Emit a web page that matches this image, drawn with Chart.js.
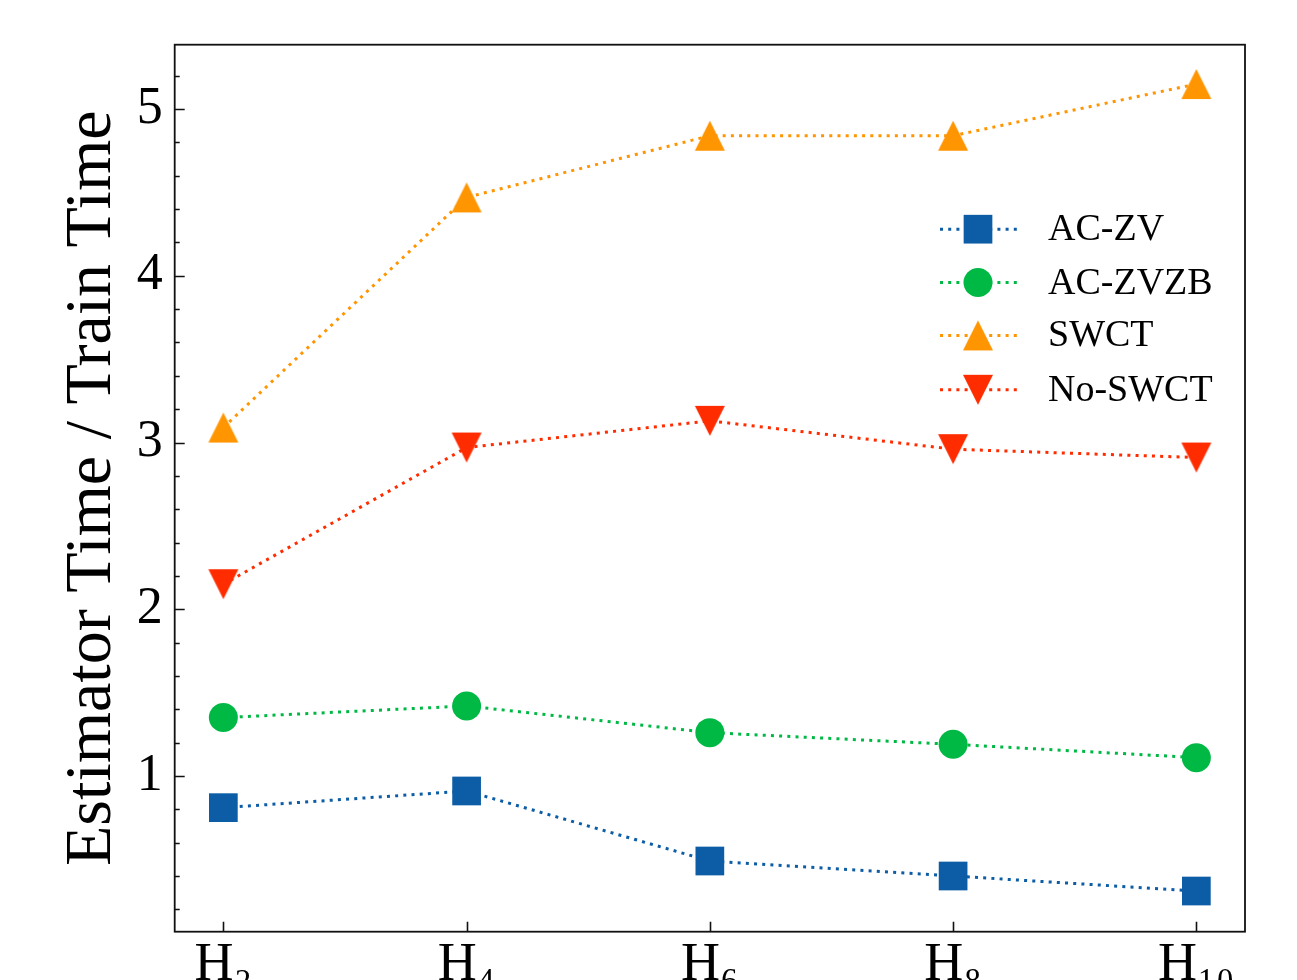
<!DOCTYPE html>
<html>
<head>
<meta charset="utf-8">
<title>Estimator Time / Train Time</title>
<script src="https://cdn.jsdelivr.net/npm/chart.js@4.4.0/dist/chart.umd.min.js"></script>
<style>
    html, body { margin: 0; padding: 0; overflow: hidden; background: #fff; }
    #wrap { width: 1297px; height: 1040px; }
</style>
</head>
<body>
<div id="wrap"><canvas id="chart" width="1297" height="1040"></canvas></div>
<script>
// Data
const xLabels = ['H₂', 'H₄', 'H₆', 'H₈', 'H₁₀'];
const acZv = [0.81, 0.91, 0.49, 0.40, 0.31];
const acZvzb = [1.35, 1.42, 1.26, 1.19, 1.11];
const swct = [3.09, 4.47, 4.84, 4.84, 5.15];
const noSwct = [2.15, 2.97, 3.13, 2.96, 2.91];
const seriesNames = ['AC-ZV', 'AC-ZVZB', 'SWCT', 'No-SWCT'];
const yTitle = 'Estimator Time / Train Time';

// Layout
const CANVAS_H = 1040;
const PLOT_TOP = 44.7;
const PLOT_LEFT = 174.7;
const PLOT_BOTTOM = 931.7;
const PLOT_RIGHT_PAD = 52;
const FONT = "'Liberation Serif', 'DejaVu Serif', serif";

const colors = {
    blue: '#0C5DA5',
    green: '#00B945',
    orange: '#FF9500',
    red: '#FF2C00'
};

function isWhole(v) {
    return Math.abs(v - Math.round(v)) < 1e-6;
}

/**
 * Matplotlib style triangle marker (as wide as it is tall)
 */
function makeTriangle(color, down) {
    const c = document.createElement('canvas');
    c.width = 32;
    c.height = 32;
    const g = c.getContext('2d');
    g.fillStyle = color;
    g.beginPath();
    if (down) {
        g.moveTo(1, 1); g.lineTo(31, 1); g.lineTo(16, 31);
    } else {
        g.moveTo(16, 1); g.lineTo(31, 31); g.lineTo(1, 31);
    }
    g.closePath();
    g.fill();
    return c;
}

function makeSeries(label, values, color, style, radius) {
    return {
        label: label,
        data: values.map((v, i) => ({ x: i, y: v })),
        borderColor: color,
        backgroundColor: color,
        borderWidth: 3,
        borderDash: [3, 5.2],
        borderCapStyle: 'butt',
        pointStyle: style,
        pointRadius: radius,
        pointHoverRadius: radius,
        pointBorderWidth: 0,
        pointBackgroundColor: color,
        pointBorderColor: color,
        tension: 0,
        clip: false
    };
}

const datasets = [
    makeSeries(seriesNames[0], acZv, colors.blue, 'rect', 20.3),
    makeSeries(seriesNames[1], acZvzb, colors.green, 'circle', 14.5),
    makeSeries(seriesNames[2], swct, colors.orange, makeTriangle(colors.orange, false), 15),
    makeSeries(seriesNames[3], noSwct, colors.red, makeTriangle(colors.red, true), 15)
];

// Inward ticks and full box around the plot
const framePlugin = {
    id: 'frame',
    afterDatasetsDraw(chart) {
        const { ctx, chartArea: a, scales } = chart;
        ctx.save();
        ctx.strokeStyle = '#111';
        ctx.lineWidth = 1.6;
        ctx.setLineDash([]);
        ctx.beginPath();
        scales.y.ticks.forEach(t => {
            const py = Math.round(scales.y.getPixelForValue(t.value)) + 0.5;
            const len = isWhole(t.value) ? 10 : 5;
            ctx.moveTo(a.left, py);
            ctx.lineTo(a.left + len, py);
        });
        scales.x.ticks.forEach(t => {
            const px = Math.round(scales.x.getPixelForValue(t.value)) + 0.5;
            ctx.moveTo(px, a.bottom);
            ctx.lineTo(px, a.bottom - 10);
        });
        ctx.stroke();
        ctx.lineWidth = 1.8;
        ctx.strokeRect(a.left, a.top, a.right - a.left, a.bottom - a.top);
        ctx.restore();
    }
};

// Legend inside the plot: dotted line with the marker in the middle
const legendPlugin = {
    id: 'innerLegend',
    afterDraw(chart) {
        const ctx = chart.ctx;
        const rowY = [229.2, 282.6, 335.4, 389.8];
        const lineX0 = 940;
        const lineX1 = 1017;
        const markerX = 978;
        const textX = 1048;
        ctx.save();
        chart.data.datasets.forEach((ds, i) => {
            const y = rowY[i];
            ctx.strokeStyle = ds.borderColor;
            ctx.lineWidth = ds.borderWidth;
            ctx.setLineDash(ds.borderDash);
            ctx.lineCap = 'butt';
            ctx.beginPath();
            ctx.moveTo(lineX0, y);
            ctx.lineTo(lineX1, y);
            ctx.stroke();
            ctx.setLineDash([]);
            ctx.fillStyle = ds.pointBackgroundColor;
            ctx.strokeStyle = ds.pointBorderColor;
            Chart.helpers.drawPoint(ctx, {
                pointStyle: ds.pointStyle,
                radius: ds.pointRadius,
                rotation: 0,
                borderWidth: 0
            }, markerX, y);
            ctx.fillStyle = '#000';
            ctx.font = '38px ' + FONT;
            ctx.textBaseline = 'middle';
            ctx.textAlign = 'left';
            ctx.fillText(ds.label, textX, y + 1);
        });
        ctx.restore();
    }
};

const ctx = document.getElementById('chart').getContext('2d');
new Chart(ctx, {
    type: 'line',
    data: { datasets: datasets },
    options: {
        responsive: false,
        animation: false,
        events: [],
        layout: {
            padding: { top: PLOT_TOP, right: PLOT_RIGHT_PAD, left: 0, bottom: 0 }
        },
        plugins: {
            legend: { display: false },
            tooltip: { enabled: false }
        },
        scales: {
            x: {
                type: 'linear',
                position: 'bottom',
                min: -0.2,
                max: 4.2,
                grid: { display: false, drawTicks: false },
                border: { display: false },
                ticks: {
                    stepSize: 1,
                    includeBounds: false,
                    autoSkip: false,
                    maxRotation: 0,
                    padding: 2,
                    color: '#000',
                    font: { family: FONT, size: 54 },
                    callback: v => isWhole(v) ? xLabels[Math.round(v)] : ''
                },
                afterFit: scale => { scale.height = CANVAS_H - PLOT_BOTTOM; }
            },
            y: {
                type: 'linear',
                position: 'left',
                min: 0.066,
                max: 5.386,
                grid: { display: false, drawTicks: false },
                border: { display: false },
                ticks: {
                    stepSize: 0.2,
                    includeBounds: false,
                    autoSkip: false,
                    padding: 12,
                    color: '#000',
                    font: { family: FONT, size: 52 },
                    callback: v => isWhole(v) ? String(Math.round(v)) : ''
                },
                title: {
                    display: true,
                    text: yTitle,
                    color: '#000',
                    font: { family: FONT, size: 66 },
                    padding: { top: 53, bottom: 0 }
                },
                afterFit: scale => { scale.width = PLOT_LEFT; }
            }
        }
    },
    plugins: [framePlugin, legendPlugin]
});
</script>
</body>
</html>
